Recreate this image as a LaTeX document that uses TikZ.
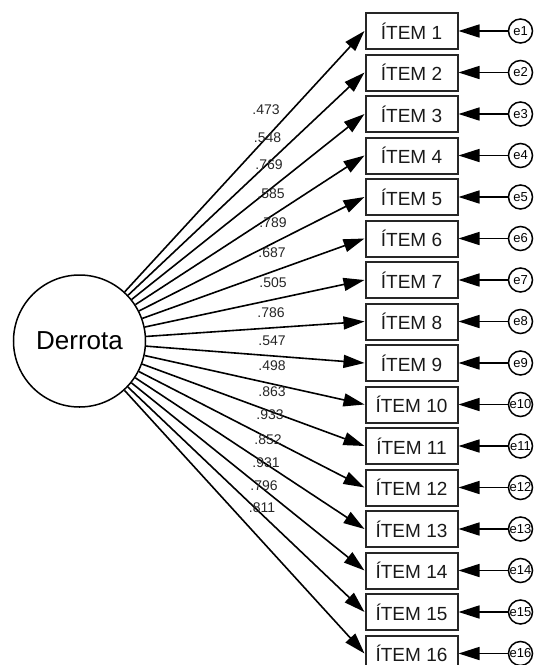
\documentclass[tikz,border=0pt]{standalone}
\usepackage{fontspec}
\setmainfont{Liberation Sans}
\usetikzlibrary{arrows.meta}
\begin{document}
\begin{tikzpicture}[x=1pt,y=-1pt,
  itembox/.style={draw=black!85,line width=2pt,minimum width=92pt,minimum height=36pt,inner sep=0pt,font=\fontsize{19}{21}\selectfont,text=black!90},
  errc/.style={draw,circle,line width=1.5pt,minimum size=24pt,inner sep=0pt,font=\fontsize{13}{15}\selectfont},
  latent/.style={draw,circle,line width=1.5pt,minimum size=132pt,inner sep=0pt,font=\fontsize{26}{29}\selectfont},
  lab/.style={font=\fontsize{14}{16}\selectfont,inner sep=0pt,text=black!85},
  arr/.style={line width=1.6pt,-{Triangle[length=21pt,width=13pt]}}]
\useasboundingbox (0,0) rectangle (536,665);
\clip (0,0) rectangle (536,665);
\node[latent] (D) at (79.5,341) {Derrota};
\foreach \i in {1,...,16}{
  \pgfmathsetmacro{\yy}{31+41.5*(\i-1)}
  \node[itembox] (I\i) at (411.5,\yy) {ÍTEM \i};
  \node[errc] (e\i) at (520.5,\yy) {e\i};
  \draw[arr] (e\i) -- (I\i);
  \draw[arr] (D) -- (I\i.west);
}
\foreach \i/\x/\y/\t in {1/266/110/.473,2/267.5/138/.548,3/269/165/.769,4/271/194/.585,5/273/223/.789,6/272/253/.687,7/273/283/.505,8/271/313/.786,9/272/341/.547,10/272/366/.498,11/272/392/.863,12/270/415/.933,13/268/440/.852,14/266/463/.931,15/264/486/.796,16/262/508/.811}{
  \node[lab] (l\i) at (\x,\y) {\t};
}
\end{tikzpicture}
\end{document}
